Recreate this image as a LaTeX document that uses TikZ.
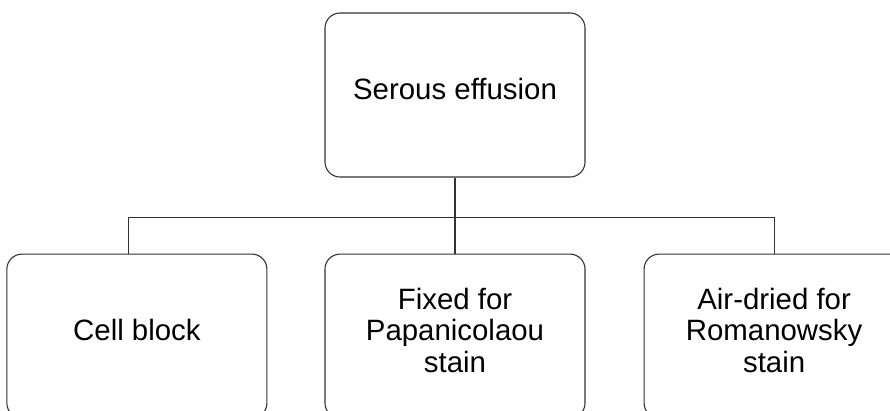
\documentclass[tikz,border=0pt]{standalone}
\usepackage{fontspec}
\setmainfont{Liberation Sans}
\usetikzlibrary{positioning}
\begin{document}
\begin{tikzpicture}[box/.style = {draw=black!80, line width=1.1pt, rounded corners=15pt, minimum width=260pt, minimum height=164pt, inner sep=0pt},
                    txt/.style = {font=\fontsize{29.4}{31.5}\selectfont, align=center, yshift=6pt}]
    \useasboundingbox (0,0) rectangle (890pt,-410pt);
    \node[box, label={[txt]center:Serous effusion}] (serous) at (455pt,-95pt) {};
    \node[box, label={[txt]center:Fixed for\\Papanicolaou\\stain}] (fixed) [below=76pt of serous] {};
    \node[box, label={[txt]center:Cell block}] (cellblock) [left=57pt of fixed] {};
    \node[box, label={[txt]center:Air-dried for\\Romanowsky\\stain}] (airdried) [right=58pt of fixed] {};
    \coordinate[below=40pt of serous] (bus);
    \draw[black!80, line width=1.1pt] (serous) -- (fixed);
    \draw[black!80, line width=1.1pt] ([xshift=-8pt]cellblock.north) |- (bus) -| (airdried.north);
\end{tikzpicture}
\end{document}
